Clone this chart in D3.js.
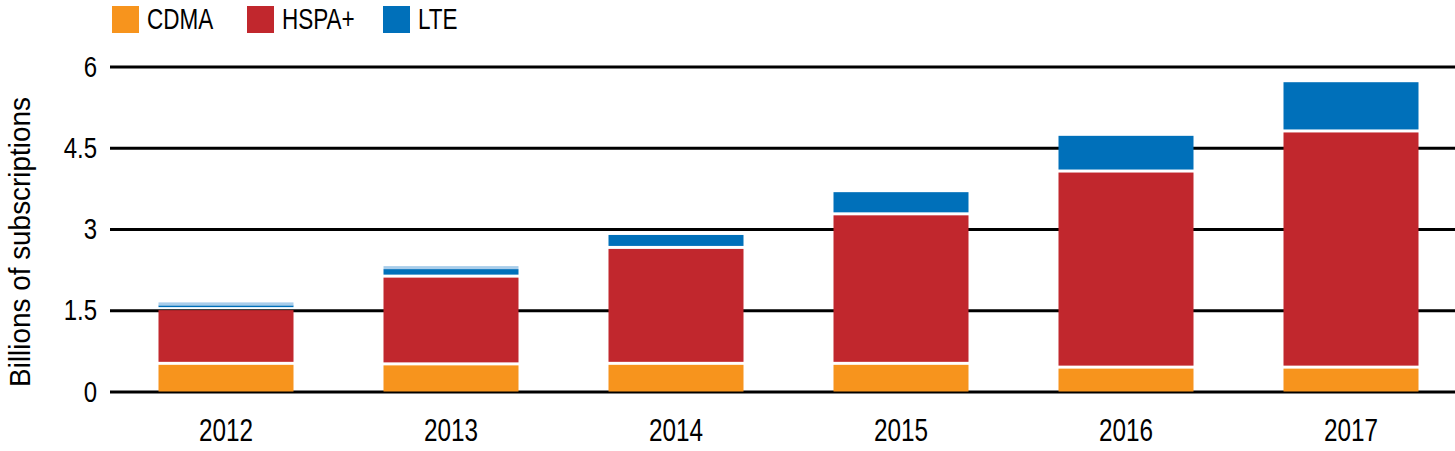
<!DOCTYPE html>
<html><head><meta charset="utf-8">
<script src="https://cdn.jsdelivr.net/npm/d3@7"></script>
<style>
html,body{margin:0;padding:0;background:#fff;}
svg{display:block;}
text{font-family:"Liberation Sans",Arial,sans-serif;fill:#000;}
</style></head><body>
<svg id="c" width="1455" height="451"></svg>
<script>
const years = ["2012","2013","2014","2015","2016","2017"];
const cdma  = [0.52, 0.51, 0.52, 0.52, 0.45, 0.45];
const hspa  = [1.01, 1.62, 2.14, 2.76, 3.62, 4.36];
const lte   = [0.06, 0.13, 0.23, 0.40, 0.65, 0.90];
const lteOther = [0.055, 0.055, 0, 0, 0, 0];
const yTicks = [0, 1.5, 3, 4.5, 6];
const yTickLabels = ["0", "1.5", "3", "4.5", "6"];
const seriesNames = ["CDMA", "HSPA+", "LTE", "LTE other"];
const legendNames = ["CDMA", "HSPA+", "LTE"];
const colors = ["#F7941D", "#C1272D", "#0070BA", "#A9CDEA"];

const svg = d3.select("#c");
const W = 1455;
const x = d3.scaleBand().domain(years).range([113.5, 1463.5]).paddingInner(0.4).paddingOuter(0.2);
const y = d3.scaleLinear().domain([0, 6]).range([391.5, 66.5]);

// gridlines + y labels
const ySX = 0.8;
const yAxis = d3.axisLeft(y).tickValues(yTicks).tickFormat((d,i)=>yTickLabels[i]).tickSize(W-110).tickPadding(13);
const gy = svg.append("g").attr("transform", `translate(${W},0)`).call(yAxis);
gy.select(".domain").remove();
gy.selectAll(".tick line").attr("stroke", "#000").attr("stroke-width", 3);
gy.selectAll(".tick text").style("font-size", "30px").attr("fill", "#000")
  .attr("x", -(W-110+13)/ySX).attr("transform", `scale(${ySX},1)`);

// stacked data
const rows = years.map((yr,i)=>({year:yr, CDMA:cdma[i], "HSPA+":hspa[i], LTE:lte[i], "LTE other":lteOther[i]}));
const stack = d3.stack().keys(seriesNames)(rows);
const topOff = [1.5, 1.5, 0, 0];
const botOff = [0, 1.5, 1.5, 0];
stack.forEach((s, si) => {
  const tOff = d => (si === 2 && d.data["LTE other"] > 0 ? 0 : topOff[si]);
  svg.append("g").selectAll("rect").data(s.filter(d => d[1] - d[0] > 0)).join("rect")
    .attr("x", d => x(d.data.year))
    .attr("width", x.bandwidth())
    .attr("y", d => y(d[1]) + tOff(d))
    .attr("height", d => (y(d[0]) - botOff[si]) - (y(d[1]) + tOff(d)))
    .attr("fill", colors[si]);
});

// x axis labels
const xAxis = d3.axisBottom(x).tickSize(0).tickPadding(27);
const gx = svg.append("g").attr("transform", "translate(0,391.5)").call(xAxis);
gx.select(".domain").remove();
gx.selectAll(".tick text").style("font-size", "32px").attr("fill", "#000")
  .attr("transform", "scale(0.76,1)");

// y title
svg.append("text").attr("transform", "translate(30,242) rotate(-90) scale(0.93,1)")
  .attr("text-anchor", "middle").style("font-size", "30px").text("Billions of subscriptions");

// legend
const legX = [112, 247, 383];
const lg = svg.append("g").selectAll("g").data(legendNames).join("g")
  .attr("transform", (d,i)=>`translate(${legX[i]},0)`);
lg.append("rect").attr("x",0).attr("y",6).attr("width",27).attr("height",27).attr("fill",(d,i)=>colors[i]);
lg.append("text").attr("transform","translate(35,29) scale(0.75,1)").style("font-size","30px").text(d=>d);
</script>
</body></html>
